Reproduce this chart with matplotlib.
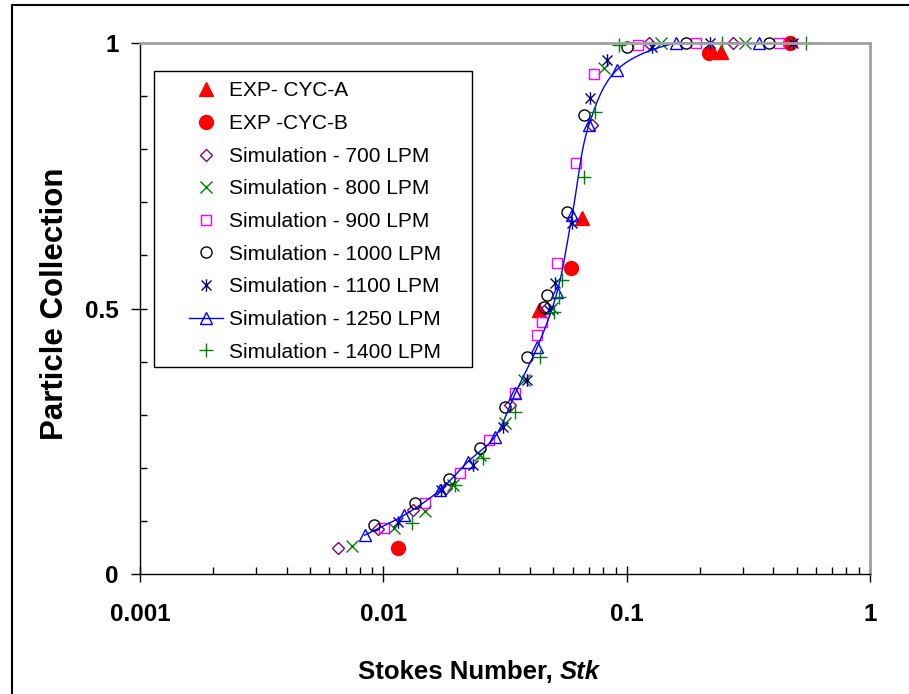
import numpy as np
import matplotlib
matplotlib.use("Agg")
import matplotlib.pyplot as plt
from matplotlib.path import Path
from matplotlib.lines import Line2D
from matplotlib.patches import Rectangle
from matplotlib.ticker import FixedLocator, FixedFormatter, NullFormatter

plt.rcParams["font.family"] = ["Liberation Sans", "DejaVu Sans"]

# ---- data: Stokes number vs. particle collection efficiency ----
exp_a_stk = [0.0437, 0.0655, 0.244]
exp_a_eff = [0.497, 0.670, 0.983]

exp_b_stk = [0.0115, 0.0591, 0.218, 0.471]
exp_b_eff = [0.049, 0.576, 0.981, 1.0]

sim700_stk = [0.0065, 0.00955, 0.0133, 0.0181, 0.0333, 0.0471, 0.0720, 0.124, 0.273]
sim700_eff = [0.049, 0.085, 0.120, 0.162, 0.318, 0.501, 0.846, 1.0, 1.0]

sim800_stk = [0.0074, 0.0111, 0.0148, 0.0193, 0.0249, 0.0315, 0.0380, 0.0494, 0.0806, 0.139, 0.306]
sim800_eff = [0.053, 0.087, 0.119, 0.168, 0.224, 0.284, 0.365, 0.501, 0.953, 1.0, 1.0]

sim900_stk = [0.0101, 0.0148, 0.0206, 0.0273, 0.0346, 0.0429, 0.0450, 0.0518, 0.0619, 0.0733, 0.111, 0.193, 0.421]
sim900_eff = [0.087, 0.134, 0.190, 0.252, 0.341, 0.450, 0.475, 0.586, 0.774, 0.942, 0.996, 1.0, 1.0]

sim1000_stk = [0.00919, 0.0135, 0.0186, 0.0249, 0.0315, 0.0391, 0.0458, 0.0471, 0.0569, 0.0668, 0.100, 0.176, 0.384]
sim1000_eff = [0.092, 0.134, 0.179, 0.237, 0.315, 0.409, 0.503, 0.525, 0.682, 0.864, 0.992, 1.0, 1.0]

sim1100_stk = [0.0115, 0.0172, 0.0233, 0.0309, 0.0391, 0.0481, 0.0508, 0.0597, 0.0706, 0.0828, 0.1265, 0.220, 0.481]
sim1100_eff = [0.098, 0.158, 0.205, 0.277, 0.365, 0.497, 0.548, 0.661, 0.896, 0.968, 0.992, 1.0, 1.0]

sim1250_stk = [0.00837, 0.0122, 0.0171, 0.0222, 0.0287, 0.0349, 0.0429, 0.0518, 0.0597, 0.0700, 0.091, 0.160, 0.349]
sim1250_eff = [0.073, 0.111, 0.158, 0.211, 0.258, 0.341, 0.427, 0.531, 0.676, 0.846, 0.949, 1.0, 1.0]

sim1400_stk = [0.0131, 0.0197, 0.0256, 0.0346, 0.0441, 0.0504, 0.0528, 0.0543, 0.0668, 0.0740, 0.0927, 0.246, 0.548]
sim1400_eff = [0.096, 0.168, 0.218, 0.305, 0.409, 0.493, 0.522, 0.554, 0.748, 0.870, 0.996, 1.0, 1.0]

labels = ["EXP- CYC-A", "EXP -CYC-B", "Simulation - 700 LPM", "Simulation - 800 LPM",
          "Simulation - 900 LPM", "Simulation - 1000 LPM", "Simulation - 1100 LPM",
          "Simulation - 1250 LPM", "Simulation - 1400 LPM"]

x_ticks = [0.001, 0.01, 0.1, 1]
x_ticklabels = ["0.001", "0.01", "0.1", "1"]
y_ticks = [0, 0.5, 1]
y_ticklabels = ["0", "0.5", "1"]


def smooth_curve(xv, yv, n=24):
    """Centripetal Catmull-Rom spline through points in (log10 x, y) space."""
    P = np.column_stack([np.log10(xv) / 3.0 * 730.0 / 531.0, yv])
    P = np.vstack([2 * P[0] - P[1], P, 2 * P[-1] - P[-2]])
    out = []
    for i in range(1, len(P) - 2):
        p0, p1, p2, p3 = P[i - 1], P[i], P[i + 1], P[i + 2]
        t0 = 0.0
        t1 = t0 + np.linalg.norm(p1 - p0) ** 0.5
        t2 = t1 + np.linalg.norm(p2 - p1) ** 0.5
        t3 = t2 + np.linalg.norm(p3 - p2) ** 0.5
        t = np.linspace(t1, t2, n)[:, None]
        A1 = (t1 - t) / (t1 - t0) * p0 + (t - t0) / (t1 - t0) * p1
        A2 = (t2 - t) / (t2 - t1) * p1 + (t - t1) / (t2 - t1) * p2
        A3 = (t3 - t) / (t3 - t2) * p2 + (t - t2) / (t3 - t2) * p3
        B1 = (t2 - t) / (t2 - t0) * A1 + (t - t0) / (t2 - t0) * A2
        B2 = (t3 - t) / (t3 - t1) * A2 + (t - t1) / (t3 - t1) * A3
        C = (t2 - t) / (t2 - t1) * B1 + (t - t1) / (t2 - t1) * B2
        out.append(C if i == 1 else C[1:])
    C = np.vstack(out)
    return 10 ** (C[:, 0] * 3.0 * 531.0 / 730.0), np.clip(C[:, 1], 0, 1)


# Excel-style star: an X with a vertical bar
star = Path([(-0.8, -0.8), (0.8, 0.8), (-0.8, 0.8), (0.8, -0.8), (0, -1), (0, 1)],
            [Path.MOVETO, Path.LINETO, Path.MOVETO, Path.LINETO, Path.MOVETO, Path.LINETO])

W, H = 909, 694
fig = plt.figure(figsize=(W / 100, H / 100), dpi=100)
ax = fig.add_axes([140 / W, 1 - 574 / H, 730 / W, 531 / H])

common = dict(ls="none", clip_on=False, mew=1.0)
h_a, = ax.plot(exp_a_stk, exp_a_eff, marker="^", ms=10.5, color="#FF0000", mec="#FF0000", **common)
h_b, = ax.plot(exp_b_stk, exp_b_eff, marker="o", ms=10, color="#FF0000", mec="#FF0000", **common)
h7, = ax.plot(sim700_stk, sim700_eff, marker="D", ms=6.5, mfc="none", mec="#800080", **common)
h8, = ax.plot(sim800_stk, sim800_eff, marker="x", ms=8, mec="#008000", **common)
h9, = ax.plot(sim900_stk, sim900_eff, marker="s", ms=7.5, mfc="none", mec="#FF00FF", **common)
h10, = ax.plot(sim1000_stk, sim1000_eff, marker="o", ms=8, mfc="none", mec="#000000", **common)
h11, = ax.plot(sim1100_stk, sim1100_eff, marker=star, ms=9, mec="#000080", **common)
sx, sy = smooth_curve(sim1250_stk, sim1250_eff)
ax.plot(sx, sy, color="#0000FF", lw=1.0, clip_on=False)
ax.plot(sim1250_stk, sim1250_eff, marker="^", ms=8.5, mfc="none", mec="#0000FF", **common)
h14, = ax.plot(sim1400_stk, sim1400_eff, marker="+", ms=10, mec="#008000", **common)
h12 = Line2D([], [], color="#0000FF", lw=1.0, marker="^", ms=8.5, mfc="none", mec="#0000FF", mew=1.0)

ax.set_xscale("log")
ax.set_xlim(0.001, 1)
ax.set_ylim(0, 1)

ax.xaxis.set_major_locator(FixedLocator(x_ticks))
ax.xaxis.set_major_formatter(FixedFormatter(x_ticklabels))
ax.xaxis.set_minor_locator(FixedLocator([m * d for d in (0.001, 0.01, 0.1) for m in range(2, 10)]))
ax.xaxis.set_minor_formatter(NullFormatter())
ax.yaxis.set_major_locator(FixedLocator(y_ticks))
ax.yaxis.set_major_formatter(FixedFormatter(y_ticklabels))
ax.yaxis.set_minor_locator(FixedLocator([i / 10 for i in range(1, 10)]))
ax.yaxis.remove_overlapping_locs = False

ax.tick_params(axis="x", which="major", direction="inout", length=12, width=1.0, pad=15,
               labelsize=17.5)
ax.tick_params(axis="x", which="minor", direction="in", length=5, width=1.0)
ax.tick_params(axis="y", which="major", direction="out", length=6.5, width=1.0, pad=9,
               labelsize=17.5)
ax.tick_params(axis="y", which="minor", direction="in", length=5, width=1.0)
for lab in ax.get_xticklabels() + ax.get_yticklabels():
    lab.set_fontweight("bold")

for s in ("left", "bottom"):
    ax.spines[s].set_color("black")
    ax.spines[s].set_linewidth(1.0)
for s in ("top", "right"):
    ax.spines[s].set_color("#A0A0A0")
    ax.spines[s].set_linewidth(2.0)

# axis titles
fig.text(55 / W, 1 - 304 / H, "Particle Collection", rotation=90, ha="center", va="center",
         fontsize=22.5, fontweight="bold")
renderer = fig.canvas.get_renderer()
t1 = fig.text(0, 1 - 672 / H, "Stokes Number, ", ha="left", va="center",
              fontsize=18.5, fontweight="bold")
t2 = fig.text(0, 1 - 672 / H, "Stk", ha="left", va="center",
              fontsize=18.5, fontweight="bold", fontstyle="italic")
w1 = t1.get_window_extent(renderer).width
w2 = t2.get_window_extent(renderer).width
x0 = 479 - (w1 + w2) / 2
t1.set_x(x0 / W)
t2.set_x((x0 + w1) / W)

# legend box
fig.add_artist(Rectangle((154 / W, 1 - 367 / H), (472 - 154) / W, (367 - 71) / H,
                         transform=fig.transFigure, facecolor="white", edgecolor="black",
                         lw=1.0, zorder=3))
fig.legend([h_a, h_b, h7, h8, h9, h10, h11, h12, h14], labels,
           loc="upper left", bbox_to_anchor=(189 / W, 1 - 81.5 / H), frameon=False,
           borderpad=0, borderaxespad=0, fontsize=15, handlelength=1.63,
           handletextpad=0.29, labelspacing=0.655, numpoints=1)

# outer chart border
fig.add_artist(Rectangle((12 / W, -0.1), 2, 1.1 - 5 / H, transform=fig.transFigure,
                         facecolor="none", edgecolor="black", lw=1.5, zorder=10))

fig.savefig("out.png", dpi=100)
